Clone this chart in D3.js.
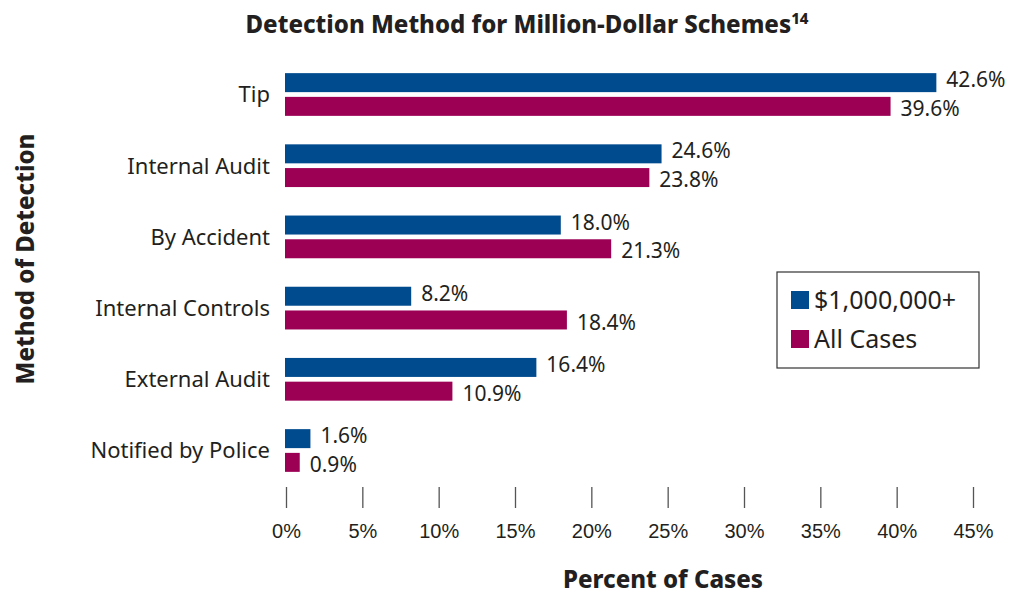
<!DOCTYPE html>
<html>
<head>
<meta charset="utf-8">
<script src="https://cdn.jsdelivr.net/npm/d3@7"></script>
<style>
  body { margin: 0; background: #fff; }
  svg { font-family: "Noto Sans", "Open Sans", sans-serif; }
  .cat { font-size: 22px; fill: #231f20; }
  .val { font-size: 21px; fill: #231f20; }
  .tick text { font-size: 20px; fill: #231f20; }
  .title { font-size: 24px; font-weight: 800; fill: #231f20; }
</style>
</head>
<body>
<svg width="1026" height="596"></svg>
<script>
// chart data
var categories = ["Tip", "Internal Audit", "By Accident", "Internal Controls", "External Audit", "Notified by Police"];
var series = ["$1,000,000+", "All Cases"];
var million = [42.6, 24.6, 18.0, 8.2, 16.4, 1.6];
var allCases = [39.6, 23.8, 21.3, 18.4, 10.9, 0.9];
var tickValues = [0, 5, 10, 15, 20, 25, 30, 35, 40, 45];
var colors = ["#004b8e", "#9c0055"];

var svg = d3.select("svg");

// rows of the table, built from the arrays above
var data = categories.map(function(c, i) {
  return { cat: c, values: [million[i], allCases[i]] };
});

var x = d3.scaleLinear().domain([0, 45]).range([286, 973]);
var y0 = d3.scaleBand().domain(categories).range([58.9, 486.1]).paddingInner(0.4).paddingOuter(0.2);
var y1 = d3.scaleBand().domain(d3.range(series.length)).range([0, y0.bandwidth()]).paddingInner(0.2);

// title
var title = svg.append("text").attr("class", "title")
    .attr("x", 527).attr("y", 33).attr("text-anchor", "middle");
title.append("tspan").text("Detection Method for Million-Dollar Schemes");
title.append("tspan").attr("font-size", "15px").attr("dy", -9).text("14");

// groups of bars
var g = svg.selectAll(".grp")
  .data(data)
  .enter().append("g")
    .attr("class", "grp")
    .attr("transform", function(d) { return "translate(0," + y0(d.cat) + ")"; });

g.selectAll("rect")
  .data(function(d) { return d.values; })
  .enter().append("rect")
    .attr("x", x(0) - 1)
    .attr("y", function(d, i) { return y1(i); })
    .attr("width", function(d) { return x(d) - x(0) + 1; })
    .attr("height", y1.bandwidth())
    .attr("fill", function(d, i) { return colors[i]; });

// value labels, nudged apart a little so the pair does not collide
g.selectAll(".val")
  .data(function(d) { return d.values; })
  .enter().append("text")
    .attr("class", "val")
    .attr("x", function(d) { return x(d) + 10; })
    .attr("y", function(d, i) { return y1(i) + y1.bandwidth() / 2 + (i ? 2 : -3); })
    .attr("dy", "0.36em")
    .text(function(d) { return d.toFixed(1) + "%"; });

// category labels
svg.selectAll(".cat")
  .data(categories)
  .enter().append("text")
    .attr("class", "cat")
    .attr("x", 270)
    .attr("y", function(d) { return y0(d) + y0.bandwidth() / 2; })
    .attr("dy", "0.36em")
    .attr("text-anchor", "end")
    .text(function(d) { return d; });

// x axis: short ticks only, no domain line
var axis = svg.append("g")
    .attr("transform", "translate(0,487)")
    .call(d3.axisBottom(x).tickValues(tickValues).tickSize(21).tickPadding(16)
      .tickFormat(function(d) { return d + "%"; }));
axis.select(".domain").remove();
axis.selectAll(".tick line").attr("stroke", "#555").attr("stroke-width", 1.3);
axis.selectAll(".tick text").attr("font-family", null).attr("font-size", null);

// axis titles
svg.append("text").attr("class", "title")
    .attr("x", 663).attr("y", 588).attr("text-anchor", "middle")
    .text("Percent of Cases");
svg.append("text").attr("class", "title")
    .attr("transform", "translate(34,259) rotate(-90)")
    .attr("text-anchor", "middle")
    .text("Method of Detection");

// legend
var legend = svg.append("g").attr("transform", "translate(777,272)");
legend.append("rect")
    .attr("width", 202).attr("height", 96)
    .attr("fill", "#fff").attr("stroke", "#333").attr("stroke-width", 1.2);
var item = legend.selectAll(".item")
  .data(series)
  .enter().append("g")
    .attr("transform", function(d, i) { return "translate(14," + (19 + i * 39) + ")"; });
item.append("rect")
    .attr("width", 18).attr("height", 18)
    .attr("fill", function(d, i) { return colors[i]; });
item.append("text")
    .attr("x", 23).attr("y", 9).attr("dy", "0.36em")
    .attr("font-size", "25px").attr("fill", "#231f20")
    .text(function(d) { return d; });
</script>
</body>
</html>
